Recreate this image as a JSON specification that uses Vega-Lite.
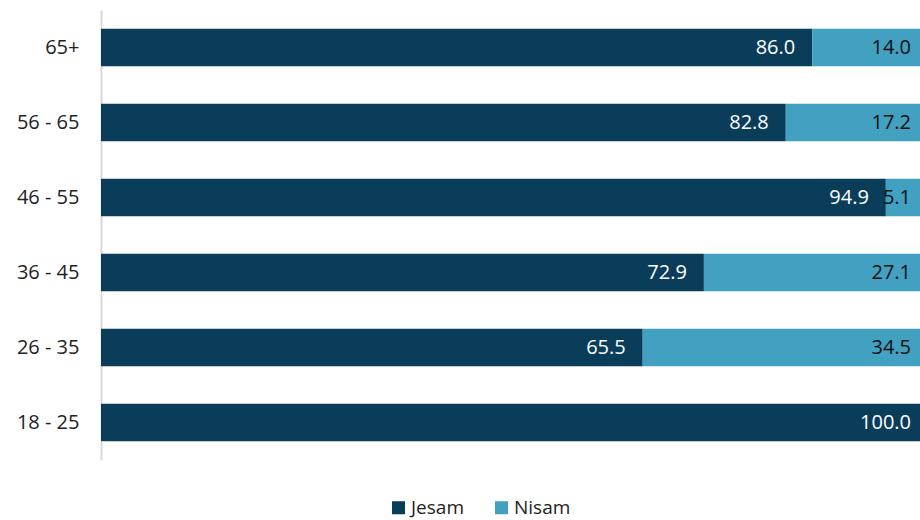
{
  "$schema": "https://vega.github.io/schema/vega-lite/v6.json",
  "autosize": {"type": "none"},
  "width": 819,
  "height": 450,
  "padding": {"left": 101, "top": 10, "right": 0, "bottom": 60},
  "background": "white",
  "config": {"view": {"stroke": null}, "font": "Open Sans"},
  "data": {"values": [
    {"age": "65+", "answer": "Jesam", "order": 1, "value": 86.0},
    {"age": "65+", "answer": "Nisam", "order": 2, "value": 14.0},
    {"age": "56 - 65", "answer": "Jesam", "order": 1, "value": 82.8},
    {"age": "56 - 65", "answer": "Nisam", "order": 2, "value": 17.2},
    {"age": "46 - 55", "answer": "Jesam", "order": 1, "value": 94.9},
    {"age": "46 - 55", "answer": "Nisam", "order": 2, "value": 5.1},
    {"age": "36 - 45", "answer": "Jesam", "order": 1, "value": 72.9},
    {"age": "36 - 45", "answer": "Nisam", "order": 2, "value": 27.1},
    {"age": "26 - 35", "answer": "Jesam", "order": 1, "value": 65.5},
    {"age": "26 - 35", "answer": "Nisam", "order": 2, "value": 34.5},
    {"age": "18 - 25", "answer": "Jesam", "order": 1, "value": 100.0}
  ]},
  "encoding": {
    "y": {
      "field": "age", "type": "nominal",
      "sort": ["65+", "56 - 65", "46 - 55", "36 - 45", "26 - 35", "18 - 25"],
      "scale": {"paddingInner": 0.5, "paddingOuter": 0.25},
      "axis": {"title": null, "ticks": false, "domainColor": "#d9d9d9", "domainWidth": 2,
               "labelFontSize": 20, "labelColor": "#222222", "labelPadding": 22, "labelFont": "Open Sans"}
    },
    "x": {
      "field": "value", "type": "quantitative", "stack": "zero",
      "scale": {"domain": [0, 99.03], "nice": false, "zero": true, "clamp": false},
      "axis": null
    },
    "order": {"field": "order", "type": "quantitative"}
  },
  "layer": [
    {
      "mark": {"type": "bar", "clip": true},
      "encoding": {
        "color": {
          "field": "answer", "type": "nominal",
          "scale": {"domain": ["Jesam", "Nisam"], "range": ["#093d5a", "#42a0c0"]},
          "legend": {"title": null, "orient": "none", "direction": "horizontal",
                     "legendX": 288, "legendY": 488, "symbolType": "square", "symbolSize": 170,
                     "labelFontSize": 19, "labelColor": "#222222", "columnPadding": 28, "labelOffset": 3,
                     "symbolOpacity": 1, "labelFont": "Open Sans"}
        }
      }
    },
    {
      "mark": {"type": "text", "align": "right", "baseline": "middle", "dx": -17, "fontSize": 20, "font": "Open Sans"},
      "encoding": {
        "text": {"field": "value", "type": "quantitative", "format": ".1f"},
        "color": {
          "field": "answer", "type": "nominal",
          "scale": {"domain": ["Jesam", "Nisam"], "range": ["#ffffff", "#111111"]},
          "legend": null
        }
      }
    }
  ],
  "resolve": {"scale": {"color": "independent"}}
}
